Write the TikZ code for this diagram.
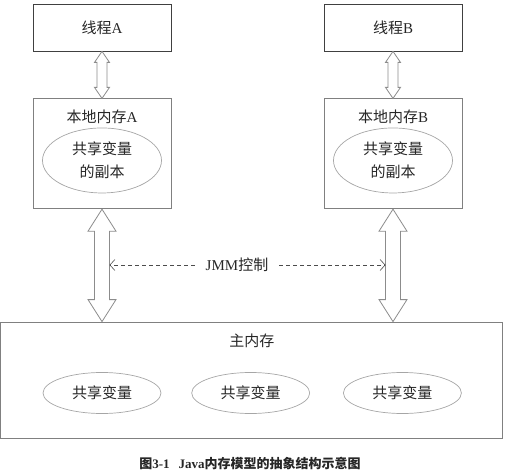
\documentclass[tikz,border=0pt]{standalone}
\usepackage{fontspec}
\setmainfont{Liberation Serif}
\newfontfamily\cjkfont{Noto Sans CJK SC}
\usetikzlibrary{shapes.geometric, arrows.meta, positioning, calc}

\newcommand\zh[1]{{\cjkfont #1}}
% hollow double arrow between two points on one vertical line
% #3 half shaft, #4 half head, #5 head length
\newcommand\hollowarrow[5]{%
  \draw[bigarrow] let \p1=(#1), \p2=(#2) in
    (\x1,\y1) -- (\x1+#4,\y1-#5) -- (\x1+#3,\y1-#5) -- (\x1+#3,\y2+#5)
    -- (\x1+#4,\y2+#5) -- (\x1,\y2) -- (\x1-#4,\y2+#5) -- (\x1-#3,\y2+#5)
    -- (\x1-#3,\y1-#5) -- (\x1-#4,\y1-#5) -- cycle;}

\begin{document}
\begin{tikzpicture}[
    x=1pt, y=-1pt,
    node distance=47pt,
    threadbox/.style={rectangle, draw=black!75, line width=0.8pt,
        minimum width=138pt, minimum height=47pt, inner sep=0pt,
        font=\fontsize{15}{18}\selectfont, text=black!85},
    membox/.style={rectangle, draw=black!50, line width=0.8pt,
        minimum width=138pt, minimum height=110pt, inner sep=0pt},
    labeltext/.style={inner sep=0pt, font=\fontsize{15}{18}\selectfont, text=black!85},
    varellipse/.style={ellipse, draw=black!35, line width=0.7pt, inner sep=0pt,
        minimum width=118pt, minimum height=41pt, align=center,
        font=\fontsize{15}{23}\selectfont, text=black!85},
    bigarrow/.style={draw=black!45, line width=0.8pt, fill=white},
    dasharrow/.style={-{Straight Barb[length=5pt, width=11pt]}, draw=black!70,
        line width=0.6pt, dash pattern=on 4pt off 3pt},
]
\useasboundingbox (0,0) rectangle (517,476);

% ============ Threads and local memories ============
\node[threadbox] (threadA) at (102,27.5) {\zh{线程}A};
\node[threadbox] (threadB) at (393,27.5) {\zh{线程}B};

\node[membox, below=of threadA] (localA) {};
\node[membox, below=of threadB] (localB) {};

\node[labeltext, below=11pt of localA.north] (labA) {\zh{本地内存}A};
\node[labeltext, below=11pt of localB.north] (labB) {\zh{本地内存}B};

\node[varellipse, minimum width=119pt, minimum height=65pt, below=4pt of labA] (copyA)
    {\zh{共享变量}\\\zh{的副本}};
\node[varellipse, minimum width=119pt, minimum height=65pt, below=4pt of labB] (copyB)
    {\zh{共享变量}\\\zh{的副本}};

% ============ Main memory ============
\node[membox, minimum width=502pt, minimum height=116pt] (mainMem) at (251.75,380) {};
\node[labeltext, below=12pt of mainMem.north] (mainLab) {\zh{主内存}};

\node[varellipse] (var1) at (102,393) {\zh{共享变量}};
\node[varellipse, right=30pt of var1] (var2) {\zh{共享变量}};
\node[varellipse, right=33pt of var2] (var3) {\zh{共享变量}};

% ============ Hollow arrows ============
\hollowarrow{threadA.south}{localA.north}{5pt}{7.5pt}{11pt}
\hollowarrow{threadB.south}{localB.north}{5pt}{7.5pt}{11pt}
\hollowarrow{localA.south}{localA.south |- mainMem.north}{7.5pt}{14pt}{22pt}
\hollowarrow{localB.south}{localB.south |- mainMem.north}{7.5pt}{14pt}{22pt}

% ============ JMM control ============
\node[labeltext, inner xsep=11pt] (jmm) at (237,265) {JMM\zh{控制}};
\coordinate (jmmL) at ($(localA.south |- jmm)+(7.5pt,0)$);
\coordinate (jmmR) at ($(localB.south |- jmm)+(-7.5pt,0)$);
\draw[dasharrow] (jmm.west) -- (jmmL);
\draw[dasharrow] (jmm.east) -- (jmmR);

% ============ Caption ============
\node[inner sep=0pt, font=\fontsize{13}{15}\selectfont\bfseries, text=black!85] (caption)
    at (250,463) {\zh{图}3-1\hspace{9pt}Java\zh{内存模型的抽象结构示意图}};

\end{tikzpicture}
\end{document}
